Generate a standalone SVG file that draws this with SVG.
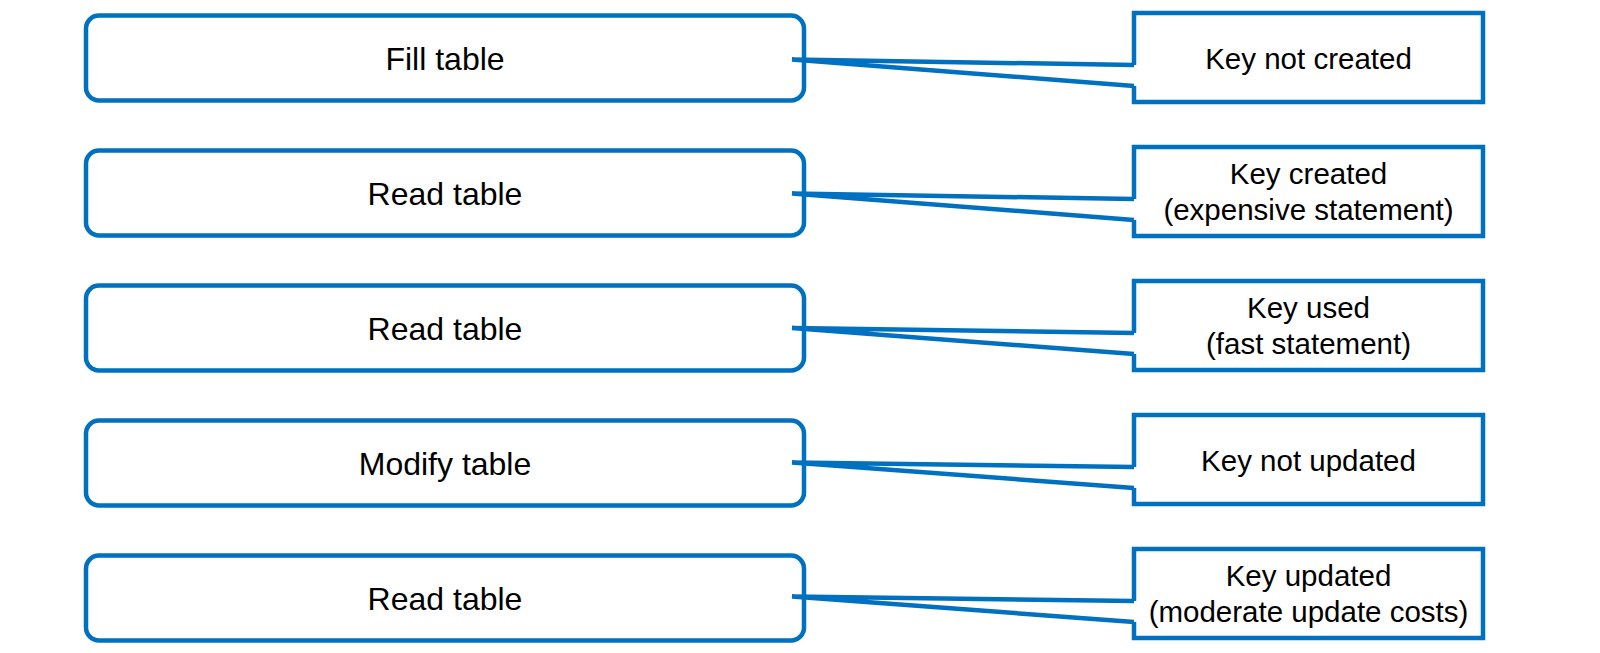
<svg xmlns="http://www.w3.org/2000/svg" width="1600" height="653" viewBox="0 0 1600 653">
<style>
.lbox{fill:#fff;stroke:#0070C0;stroke-width:4.5}
.rbox{fill:#fff;stroke:#0070C0;stroke-width:4.5;stroke-linejoin:miter}
.conn{fill:#fff;stroke:#0070C0;stroke-width:4.5;stroke-linejoin:miter}
.lt{font-family:"Liberation Sans",Arial,sans-serif;font-size:32px;fill:#000;text-anchor:middle}
.rt{font-family:"Liberation Sans",Arial,sans-serif;font-size:29.5px;fill:#000;text-anchor:middle}
</style>
<rect width="1600" height="653" fill="#fff"/>
<g id="fill-table"><rect class="lbox" x="86" y="15.5" width="718" height="85" rx="13"/><text class="lt" x="445" y="69.5">Fill table</text></g>
<g id="read-table-1"><rect class="lbox" x="86" y="150.5" width="718" height="85" rx="13"/><text class="lt" x="445" y="204.5">Read table</text></g>
<g id="read-table-2"><rect class="lbox" x="86" y="285.5" width="718" height="85" rx="13"/><text class="lt" x="445" y="339.5">Read table</text></g>
<g id="modify-table"><rect class="lbox" x="86" y="420.5" width="718" height="85" rx="13"/><text class="lt" x="445" y="474.5">Modify table</text></g>
<g id="read-table-3"><rect class="lbox" x="86" y="555.5" width="718" height="85" rx="13"/><text class="lt" x="445" y="609.5">Read table</text></g>

<g id="key-not-created"><path class="rbox" d="M1134,65 V13 H1483 V102 H1134 V86"/><text class="rt" x="1308.5" y="68.5">Key not created</text></g>
<g id="key-created"><path class="rbox" d="M1134,199 V147 H1483 V236 H1134 V220"/><text class="rt" x="1308.5" y="183.5">Key created</text><text class="rt" x="1308.5" y="219.5">(expensive statement)</text></g>
<g id="key-used"><path class="rbox" d="M1134,333 V281 H1483 V370 H1134 V354"/><text class="rt" x="1308.5" y="317.5">Key used</text><text class="rt" x="1308.5" y="353.5">(fast statement)</text></g>
<g id="key-not-updated"><path class="rbox" d="M1134,467 V415 H1483 V504 H1134 V488"/><text class="rt" x="1308.5" y="470.5">Key not updated</text></g>
<g id="key-updated"><path class="rbox" d="M1134,601 V549 H1483 V638 H1134 V622"/><text class="rt" x="1308.5" y="585.5">Key updated</text><text class="rt" x="1308.5" y="621.5">(moderate update costs)</text></g>

<g id="connectors">
<polyline class="conn" points="1134,65 792,59.5 1134,86"/>
<polyline class="conn" points="1134,199 792,193.5 1134,220"/>
<polyline class="conn" points="1134,333 792,328 1134,354"/>
<polyline class="conn" points="1134,467 792,462.5 1134,488"/>
<polyline class="conn" points="1134,601 792,596.5 1134,622"/>
</g>
</svg>
